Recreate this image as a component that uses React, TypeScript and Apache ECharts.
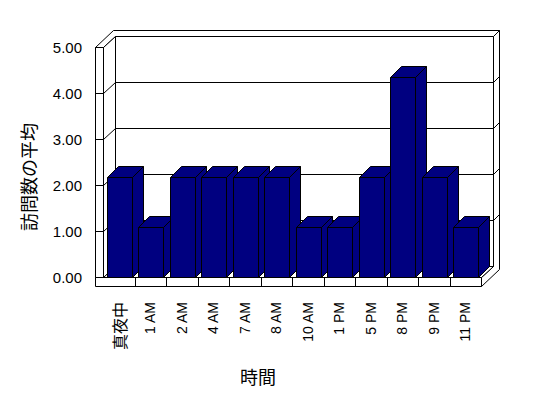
import React, { useEffect, useRef } from "react";
import * as echarts from "echarts";

const categories = ["真夜中", "1 AM", "2 AM", "4 AM", "7 AM", "8 AM", "10 AM", "1 PM", "5 PM", "8 PM", "9 PM", "11 PM"];
const averageVisits = [2.17, 1.08, 2.17, 2.17, 2.17, 2.17, 1.08, 1.08, 2.17, 4.35, 2.17, 1.08];
const valueTicks = [0, 1, 2, 3, 4, 5];
const yAxisTitle = "訪問数の平均";
const xAxisTitle = "時間";

const NAVY = "#000080";
const BLACK = "#000000";

export default function App() {
  const ref = useRef<HTMLDivElement>(null);

  useEffect(() => {
    if (!ref.current) return;
    const chart = echarts.init(ref.current, undefined, { renderer: "svg" });

    const dx = 12, dy = -11; // wall depth
    const tx = 6, ty = -6; // back wall thickness
    const W = 8; // left wall thickness
    const F = 9; // floor thickness
    const bdx = 11, bdy = -11; // bar depth
    const lineStyle = { stroke: BLACK, lineWidth: 1, fill: "#ffffff" };
    const s = (v: number) => Math.round(v) + 0.5;

    const renderFrame = (params: any, api: any) => {
      const cs = params.coordSys;
      const L = s(cs.x), T = s(cs.y), R = s(cs.x + cs.width), B = s(cs.y + cs.height);
      const band = api.size([1, 0])[0];
      const ch: any[] = [];
      const poly = (pts: number[][]) => ch.push({ type: "polygon", shape: { points: pts }, style: { ...lineStyle } });
      const line = (x1: number, y1: number, x2: number, y2: number) =>
        ch.push({ type: "line", shape: { x1, y1, x2, y2 }, style: { stroke: BLACK, lineWidth: 1 } });

      poly([[L + dx, T + dy], [R + dx, T + dy], [R + dx, B + dy], [L + dx, B + dy]]);
      poly([[L - W, T], [L, T], [L + dx, T + dy], [R + dx, T + dy], [R + dx + tx, T + dy + ty], [L - W + dx + tx, T + dy + ty]]);
      poly([[R + dx, T + dy], [R + dx + tx, T + dy + ty], [R + dx + tx, B + F + dy + ty], [R, B + F], [R, B], [R + dx, B + dy]]);
      poly([[L, T], [L + dx, T + dy], [L + dx, B + dy], [L, B]]);
      poly([[L, B], [R, B], [R + dx, B + dy], [L + dx, B + dy]]);
      poly([[L - W, T], [L, T], [L, B], [L - W, B]]);
      poly([[L - W, B], [R, B], [R, B + F], [L - W, B + F]]);
      for (let k = 1; k < categories.length; k++) {
        const x = s(cs.x + k * band);
        line(x, B, x, B + F);
      }
      valueTicks.forEach((v) => {
        const y = s(api.coord([0, v])[1]);
        line(L - W, y, L, y);
        if (v > 0 && v < valueTicks[valueTicks.length - 1]) {
          line(L, y, L + dx, y + dy);
          line(L + dx, y + dy, R + dx, y + dy);
          line(R + dx, y + dy, R + dx + tx, y + dy + ty);
        }
      });
      return { type: "group", children: ch };
    };

    const renderBar = (params: any, api: any) => {
      const idx = api.value(0);
      const val = api.value(1);
      const base = api.coord([idx, 0]);
      const top = api.coord([idx, val]);
      const band = api.size([1, 0])[0];
      const x0 = s(base[0] - band * 0.381);
      const x1 = s(base[0] + band * 0.413);
      const y0 = s(top[1]);
      const y1 = s(base[1]);
      const st = { fill: NAVY, stroke: BLACK, lineWidth: 1 };
      return {
        type: "group",
        children: [
          { type: "polygon", shape: { points: [[x1, y1], [x1 + bdx, y1 + bdy], [x1 + bdx, y0 + bdy], [x1, y0]] }, style: { ...st } },
          { type: "polygon", shape: { points: [[x0, y0], [x1, y0], [x1 + bdx, y0 + bdy], [x0 + bdx, y0 + bdy]] }, style: { ...st } },
          { type: "rect", shape: { x: x0, y: y0, width: x1 - x0, height: y1 - y0 }, style: { ...st } },
        ],
      };
    };

    const option: any = {
      animation: false,
      backgroundColor: "#ffffff",
      grid: { left: 103, top: 47, width: 378, height: 230 },
      xAxis: {
        type: "category",
        data: categories,
        axisLine: { show: false },
        axisTick: { show: false },
        axisLabel: {
          interval: 0,
          rotate: 90,
          margin: 25,
          fontSize: 14,
          color: BLACK,
          fontFamily: "Liberation Sans, Arial, sans-serif",
          formatter: (v: string) => (/[^\x00-\x7f]/.test(v) ? `{cjk|${v}}` : v),
          rich: { cjk: { fontSize: 16, fontFamily: "Noto Sans CJK JP", color: BLACK } },
        },
      },
      yAxis: {
        type: "value",
        min: valueTicks[0],
        max: valueTicks[valueTicks.length - 1],
        interval: 1,
        axisLine: { show: false },
        axisTick: { show: false },
        splitLine: { show: false },
        axisLabel: {
          margin: 21,
          fontSize: 15,
          color: BLACK,
          fontFamily: "Liberation Sans, Arial, sans-serif",
          formatter: (v: number) => v.toFixed(2),
        },
      },
      series: [
        { type: "custom", renderItem: renderFrame, data: [[0, 0]], z: 1, silent: true },
        {
          type: "custom",
          renderItem: renderBar,
          data: categories.map((c, i) => [i, averageVisits[i]]),
          encode: { x: 0, y: 1 },
          z: 2,
        },
      ],
      graphic: [
        {
          type: "text",
          x: 28,
          y: 177,
          rotation: Math.PI / 2,
          style: { text: yAxisTitle, fontSize: 18, fontFamily: "Noto Sans CJK JP", fill: BLACK, align: "center", verticalAlign: "middle" },
        },
        {
          type: "text",
          x: 258,
          y: 376,
          style: { text: xAxisTitle, fontSize: 18, fontFamily: "Noto Sans CJK JP", fill: BLACK, align: "center", verticalAlign: "middle" },
        },
      ],
    };
    chart.setOption(option);
    return () => chart.dispose();
  }, []);

  return <div ref={ref} style={{ position: "fixed", left: 0, top: 0, width: 548, height: 398, background: "#fff" }} />;
}
